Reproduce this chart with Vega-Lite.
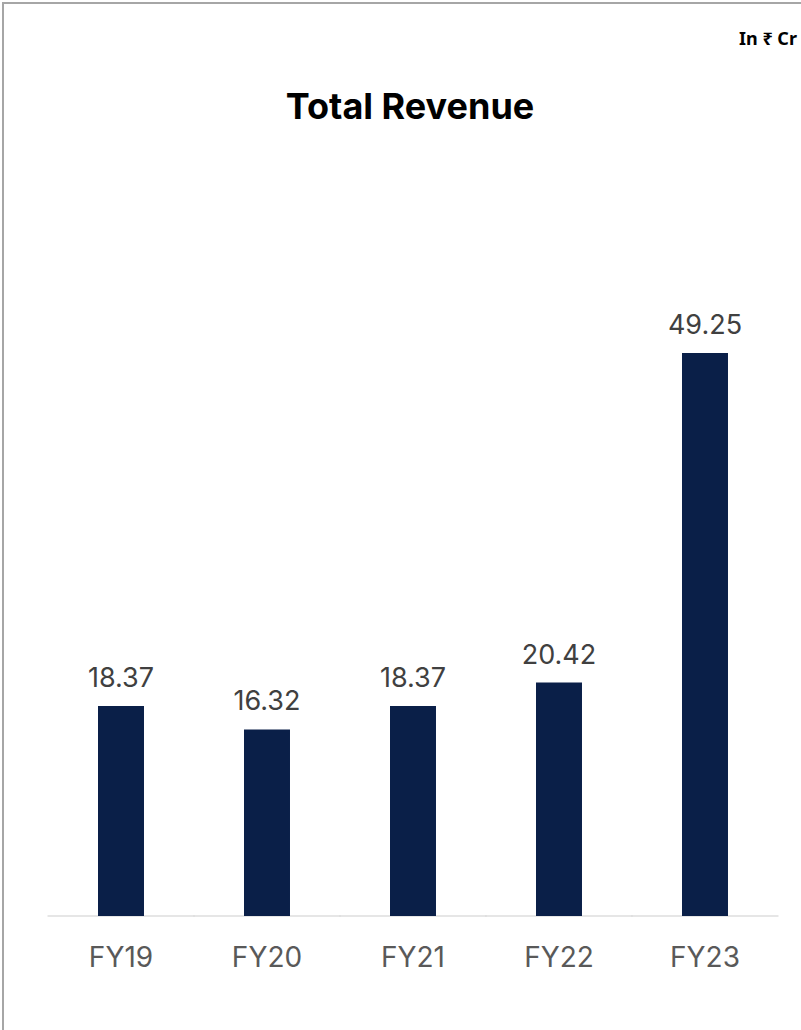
{
  "$schema": "https://vega.github.io/schema/vega-lite/v6.json",
  "width": 802,
  "height": 1031,
  "autosize": {"type": "none"},
  "padding": {"left": 3, "top": 3, "right": -4, "bottom": -4},
  "background": "white",
  "config": {
    "view": {"stroke": "#a6a6a6", "strokeWidth": 2},
    "font": "Inter"
  },
  "title": {
    "text": "Total Revenue",
    "offset": -124,
    "anchor": "middle",
    "frame": "group",
    "dx": 6,
    "font": "Inter",
    "fontSize": 36,
    "fontWeight": "bold",
    "color": "#000000"
  },
  "data": {
    "values": [
      {"year": "FY19", "revenue": 18.37},
      {"year": "FY20", "revenue": 16.32},
      {"year": "FY21", "revenue": 18.37},
      {"year": "FY22", "revenue": 20.42},
      {"year": "FY23", "revenue": 49.25}
    ]
  },
  "encoding": {
    "x": {
      "field": "year",
      "type": "nominal",
      "scale": {"paddingInner": 0.685, "paddingOuter": 0.5891, "align": 0.5523},
      "axis": {
        "title": null,
        "orient": "bottom",
        "offset": -118,
        "domain": false,
        "ticks": false,
        "labelAngle": 0,
        "labelFont": "Inter",
        "labelFontSize": 28,
        "labelColor": "#595959",
        "labelPadding": 28,
        "grid": false
      }
    },
    "y": {
      "field": "revenue",
      "type": "quantitative",
      "scale": {"domain": [-10.323, 79.867], "zero": false, "nice": false},
      "axis": null
    }
  },
  "layer": [
    {
      "mark": {"type": "tick", "color": "#d0d0d0", "thickness": 1.5, "size": 147, "orient": "horizontal"},
      "encoding": {
        "y": {"datum": 0, "type": "quantitative", "axis": null}
      }
    },
    {
      "mark": {"type": "bar", "color": "#0a1f48"},
      "encoding": {
        "y2": {"datum": 0}
      }
    },
    {
      "mark": {"type": "text", "fontSize": 27, "font": "Inter", "color": "#404040", "baseline": "alphabetic", "dy": -19},
      "encoding": {
        "text": {"field": "revenue", "type": "quantitative", "format": ".2f"}
      }
    },
    {
      "transform": [{"filter": "datum.year === 'FY23'"}],
      "mark": {"type": "text", "text": "In ₹ Cr", "fontSize": 18, "font": "Noto Sans", "fontWeight": "bold", "color": "#000000", "align": "right", "baseline": "alphabetic"},
      "encoding": {
        "x": {"field": "year", "type": "nominal", "bandPosition": 2.5},
        "y": {"datum": 76.2, "type": "quantitative", "axis": null}
      }
    }
  ]
}
